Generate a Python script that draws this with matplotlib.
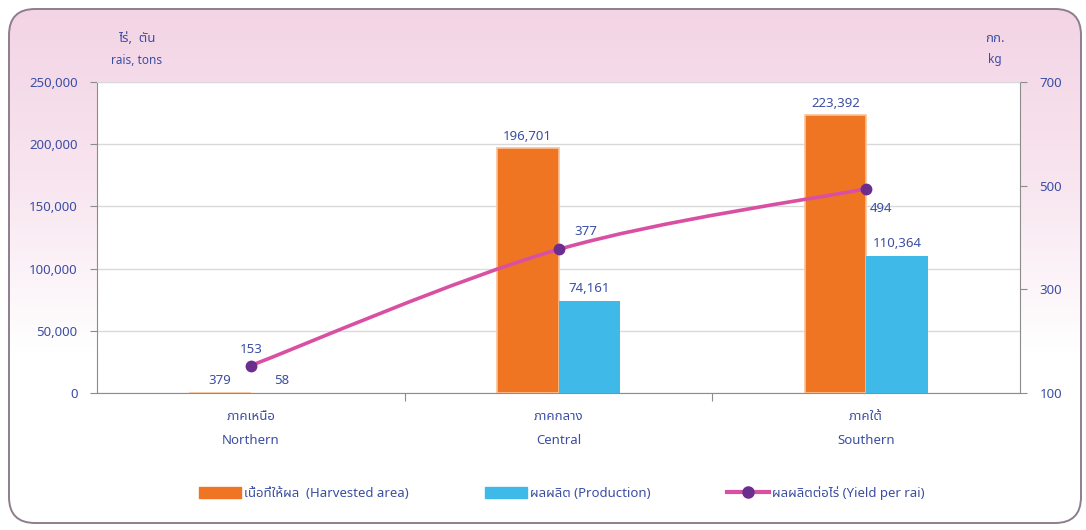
import numpy as np
import matplotlib
matplotlib.use('Agg')
import matplotlib.pyplot as plt
from matplotlib.patches import FancyBboxPatch, Patch, PathPatch
from matplotlib.lines import Line2D
from matplotlib.path import Path
from matplotlib.ticker import FuncFormatter
from matplotlib.colors import LinearSegmentedColormap

plt.rcParams['font.family'] = ['Noto Sans Thai', 'DejaVu Sans']

# data
regions_th = ['ภาคเหนือ', 'ภาคกลาง', 'ภาคใต้']
regions_en = ['Northern', 'Central', 'Southern']
harvested = [379, 196701, 223392]
production = [58, 74161, 110364]
yield_rai = [153, 377, 494]

ORANGE = '#F07522'
BLUE = '#3EB9E8'
PINK = '#D94FA2'
PURPLE = '#6B2D8E'
TXT = '#3B4EA3'
GRID = '#D9D9D9'
SPINE = '#8C8C8C'
FS = 9.5

W, H = 1086, 530
fig = plt.figure(figsize=(W / 100, H / 100), dpi=100)

# pink rounded panel behind the chart
bg = fig.add_axes([0, 0, 1, 1], zorder=-5)
bg.set_xlim(0, W)
bg.set_ylim(H, 0)
bg.axis('off')
cmap = LinearSegmentedColormap.from_list('pk', ['#F3D4E5', '#F8E5EF', '#FFFFFF', '#FFFFFF'])
grad = np.linspace(0, 1, 256).reshape(-1, 1)
im = bg.imshow(grad, cmap=cmap, extent=[8, 1082, 525, 8], aspect='auto')
panel = FancyBboxPatch((9, 9), 1072, 514, boxstyle='round,pad=0,rounding_size=26',
                       facecolor='none', edgecolor='#8E7D8C', lw=1.4)
bg.add_patch(panel)
im.set_clip_path(panel)

ax = fig.add_axes([97 / W, 1 - 393 / H, 923 / W, 311 / H])
ax.set_facecolor('white')
x = np.arange(len(regions_en))
bw = 0.2

ax.bar(x - bw / 2, harvested, bw, color=ORANGE, edgecolor='#F9C29A', lw=1.2, zorder=3)
ax.bar(x + bw / 2, production, bw, color=BLUE, lw=0, zorder=3)

for xi, v in zip(x - bw / 2, harvested):
    ax.annotate(f'{v:,}', (xi, v), xytext=(0, 4), textcoords='offset points',
                ha='center', va='bottom', color=TXT, fontsize=FS)
for xi, v in zip(x + bw / 2, production):
    ax.annotate(f'{v:,}', (xi, v), xytext=(0, 4), textcoords='offset points',
                ha='center', va='bottom', color=TXT, fontsize=FS)

ax.set_xlim(-0.5, 2.5)
ax.set_ylim(0, 250000)
ax.set_yticks(np.arange(0, 250001, 50000))
ax.yaxis.set_major_formatter(FuncFormatter(lambda v, p: f'{int(v):,}'))
ax.grid(axis='y', color=GRID, lw=1, zorder=0)
ax.set_axisbelow(True)
ax.set_xticks([0.5, 1.5])
ax.set_xticklabels([])
ax.tick_params(axis='x', length=6, color=SPINE)
ax.tick_params(axis='y', length=5, color=SPINE, labelcolor=TXT, labelsize=FS, pad=9)
for s in ['left', 'right', 'bottom']:
    ax.spines[s].set_color(SPINE)
ax.spines['top'].set_color(GRID)

for xi, th, en in zip(x, regions_th, regions_en):
    ax.text(xi, -0.074, th, transform=ax.get_xaxis_transform(), ha='center', va='center',
            color=TXT, fontsize=FS)
    ax.text(xi, -0.154, en, transform=ax.get_xaxis_transform(), ha='center', va='center',
            color=TXT, fontsize=FS)

# yield per rai on right axis, smoothed line
ax2 = ax.twinx()
ax2.set_ylim(100, 700)
ax2.set_yticks([100, 300, 500, 700])
ax2.tick_params(axis='y', length=5, color=SPINE, labelcolor=TXT, labelsize=FS, pad=9)
for s in ax2.spines.values():
    s.set_visible(False)

P = np.column_stack([x, yield_rai]).astype(float)
verts = [P[0]]
codes = [Path.MOVETO]
for i in range(len(P) - 1):
    p0 = P[max(i - 1, 0)]
    p3 = P[min(i + 2, len(P) - 1)]
    c1 = P[i] + (P[i + 1] - p0) / 6
    c2 = P[i + 1] - (p3 - P[i]) / 6
    verts += [c1, c2, P[i + 1]]
    codes += [Path.CURVE4] * 3
ax2.add_patch(PathPatch(Path(verts, codes), facecolor='none', edgecolor=PINK, lw=2.6, zorder=4))
ax2.plot(x, yield_rai, ls='none', marker='o', ms=7.5, color=PURPLE, zorder=5)

offs = [(0, 11.5), (20, 13), (11, -14)]
for xi, v, o in zip(x, yield_rai, offs):
    ax2.annotate(str(v), (xi, v), xytext=o, textcoords='offset points',
                 ha='center', va='center', color=TXT, fontsize=FS)

# unit labels
fig.text(137 / W, 1 - 38 / H, 'ไร่,  ตัน', ha='center', va='center', color=TXT, fontsize=9.5)
fig.text(137 / W, 1 - 61 / H, 'rais, tons', ha='center', va='center', color=TXT, fontsize=8.5)
fig.text(995 / W, 1 - 38 / H, 'กก.', ha='center', va='center', color=TXT, fontsize=9.5)
fig.text(995 / W, 1 - 59 / H, 'kg', ha='center', va='center', color=TXT, fontsize=8.5)

handles = [Patch(color=ORANGE), Patch(color=BLUE),
           Line2D([], [], color=PINK, lw=3, marker='o', ms=8, mfc=PURPLE, mec=PURPLE)]
labels = ['เนื้อที่ให้ผล  (Harvested area)', 'ผลผลิต (Production)', 'ผลผลิตต่อไร่ (Yield per rai)']
fig.legend(handles, labels, loc='center', bbox_to_anchor=(0.517, 1 - 493 / H), ncol=3,
           frameon=False, fontsize=FS, labelcolor=TXT, handlelength=3.2, handleheight=0.9,
           handletextpad=0.2, columnspacing=5.8)

fig.savefig('out.png', dpi=100)
